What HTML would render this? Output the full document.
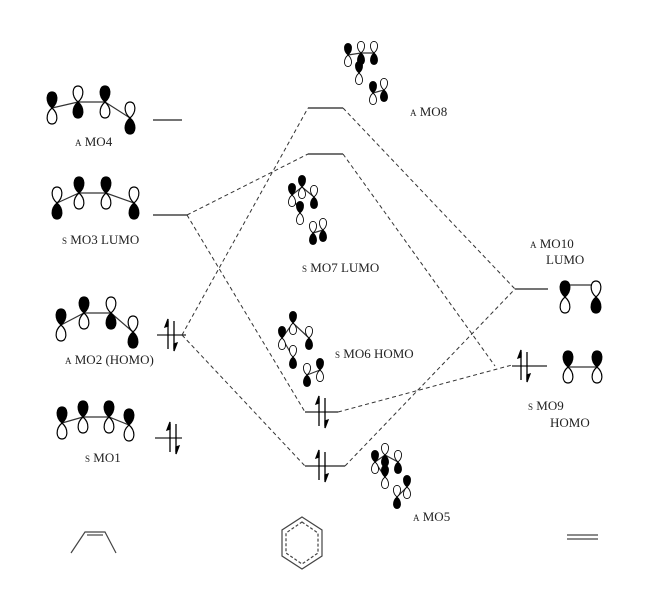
<!DOCTYPE html><html><head><style>body{margin:0;background:#fff}svg{display:block}text{font-family:"Liberation Serif",serif;font-size:13px;fill:#222}.s{font-size:9px}</style></head><body>
<svg width="651" height="600" viewBox="0 0 651 600" xmlns="http://www.w3.org/2000/svg">
<defs>
<path id="L" d="M0,0 C-7,-6 -6,-16 0,-16 C6,-16 7,-6 0,0Z" stroke="#000" stroke-width="1.2"/>
<g id="pb"><use href="#L" fill="#000"/><use href="#L" fill="#fff" transform="scale(1,-1)"/></g>
<g id="pw"><use href="#L" fill="#fff"/><use href="#L" fill="#000" transform="scale(1,-1)"/></g>
<g id="sb" transform="scale(0.72)"><use href="#pb"/></g>
<g id="sw" transform="scale(0.72)"><use href="#pw"/></g>
<g id="ar" stroke="#000" stroke-width="1.3" fill="#000"><line x1="-3" y1="-14" x2="-3" y2="14"/><path d="M-3,-16 L-6,-8 L-3,-9Z"/><line x1="3" y1="-14" x2="3" y2="14"/><path d="M3,16 L6,8 L3,9Z"/></g>
</defs>
<g stroke="#333" stroke-width="1.2" fill="none">
<polyline points="52,108 78,102 105,102 130,118"/>
<polyline points="57,203 79,193 106,193 134,203"/>
<polyline points="61,325 84,313 111,313 133,332"/>
<polyline points="62,423 83,417 109,417 129,425"/>
<line x1="565" y1="285" x2="596" y2="285"/>
<line x1="568" y1="367" x2="597" y2="367"/>
<polyline points="348,55 361,53 374,53"/><line x1="361" y1="53" x2="359" y2="73"/><line x1="373" y1="93" x2="384" y2="90"/>
<polyline points="292,195 302,187 314,197"/><line x1="292" y1="195" x2="300" y2="213"/><line x1="313" y1="233" x2="323" y2="230"/>
<polyline points="282,338 293,323 309,338"/><line x1="282" y1="338" x2="293" y2="357"/><line x1="307" y1="375" x2="320" y2="370"/>
<polyline points="375,462 385,455 398,462"/><line x1="375" y1="462" x2="385" y2="477"/><line x1="397" y1="497" x2="407" y2="487"/>
</g>
<g>
<use href="#pb" x="52" y="108"/><use href="#pw" x="78" y="102"/><use href="#pb" x="105" y="102"/><use href="#pw" x="130" y="118"/>
<use href="#pw" x="57" y="203"/><use href="#pb" x="79" y="193"/><use href="#pb" x="106" y="193"/><use href="#pw" x="134" y="203"/>
<use href="#pb" x="61" y="325"/><use href="#pb" x="84" y="313"/><use href="#pw" x="111" y="313"/><use href="#pw" x="133" y="332"/>
<use href="#pb" x="62" y="423"/><use href="#pb" x="83" y="417"/><use href="#pb" x="109" y="417"/><use href="#pb" x="129" y="425"/>
<use href="#pb" x="565" y="297"/><use href="#pw" x="596" y="297"/>
<use href="#pb" x="568" y="367"/><use href="#pb" x="597" y="367"/>
<use href="#sb" x="348" y="55"/><use href="#sw" x="361" y="53"/><use href="#sw" x="374" y="53"/><use href="#sb" x="359" y="73"/><use href="#sb" x="373" y="93"/><use href="#sw" x="384" y="90"/>
<use href="#sb" x="292" y="195"/><use href="#sb" x="302" y="187"/><use href="#sw" x="314" y="197"/><use href="#sb" x="300" y="213"/><use href="#sw" x="313" y="233"/><use href="#sw" x="323" y="230"/>
<use href="#sb" x="282" y="338"/><use href="#sb" x="293" y="323"/><use href="#sw" x="309" y="338"/><use href="#sw" x="293" y="357"/><use href="#sw" x="307" y="375"/><use href="#sb" x="320" y="370"/>
<use href="#sb" x="375" y="462"/><use href="#sw" x="385" y="455"/><use href="#sw" x="398" y="462"/><use href="#sb" x="385" y="477"/><use href="#sw" x="397" y="497"/><use href="#sb" x="407" y="487"/>
</g>
<g stroke="#222" stroke-width="1.2">
<line x1="153" y1="120" x2="182" y2="120"/><line x1="153" y1="215" x2="187" y2="215"/>
<line x1="157" y1="335" x2="186" y2="335"/><line x1="155" y1="438" x2="182" y2="438"/>
<line x1="308" y1="108" x2="343" y2="108"/><line x1="308" y1="154" x2="343" y2="154"/>
<line x1="305" y1="412" x2="338" y2="412"/><line x1="305" y1="466" x2="345" y2="466"/>
<line x1="515" y1="289" x2="548" y2="289"/><line x1="512" y1="366" x2="547" y2="366"/>
</g>
<use href="#ar" x="171" y="335"/><use href="#ar" x="173" y="438"/><use href="#ar" x="322" y="412"/><use href="#ar" x="322" y="466"/><use href="#ar" x="524" y="366"/>
<g stroke="#333" stroke-width="1" stroke-dasharray="4,3" fill="none">
<line x1="187" y1="215" x2="308" y2="154"/><line x1="187" y1="215" x2="305" y2="412"/>
<line x1="182" y1="335" x2="308" y2="108"/><line x1="182" y1="335" x2="305" y2="466"/>
<line x1="343" y1="108" x2="515" y2="289"/><line x1="343" y1="154" x2="495" y2="366"/>
<line x1="338" y1="412" x2="512" y2="365"/><line x1="345" y1="466" x2="515" y2="289"/>
</g>
<text x="75" y="146"><tspan class="s">A</tspan> MO4</text>
<text x="62" y="244"><tspan class="s">S</tspan> MO3 LUMO</text>
<text x="65" y="364"><tspan class="s">A</tspan> MO2 (HOMO)</text>
<text x="85" y="462"><tspan class="s">S</tspan> MO1</text>
<text x="410" y="116"><tspan class="s">A</tspan> MO8</text>
<text x="302" y="272"><tspan class="s">S</tspan> MO7 LUMO</text>
<text x="335" y="358"><tspan class="s">S</tspan> MO6 HOMO</text>
<text x="413" y="521"><tspan class="s">A</tspan> MO5</text>
<text x="530" y="248"><tspan class="s">A</tspan> MO10</text><text x="546" y="264">LUMO</text>
<text x="528" y="410"><tspan class="s">S</tspan> MO9</text><text x="550" y="427">HOMO</text>
<g stroke="#444" stroke-width="1.2" fill="none">
<polyline points="71,553 85,532 105,532 116,553"/><line x1="87" y1="535" x2="103" y2="535"/>
<polygon points="302,517 322,530 322,556 302,569 282,556 282,530"/>
<polygon points="302,522 318,533 318,553 302,564 286,553 286,533" stroke-dasharray="3,2"/>
<line x1="567" y1="535" x2="598" y2="535"/><line x1="567" y1="539" x2="598" y2="539"/>
</g>
</svg></body></html>
